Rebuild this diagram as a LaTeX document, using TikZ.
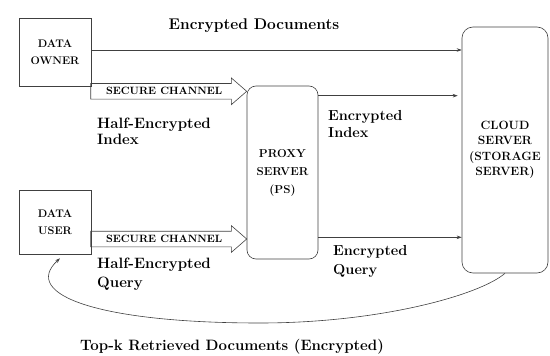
\documentclass[tikz,border=0pt]{standalone}
\usetikzlibrary{arrows.meta,shapes.arrows,calc}
\tikzset{
	party/.style={draw=black!75, line width=0.6pt, minimum width=72pt, inner sep=0pt, align=center, font=\fontsize{11}{17}\selectfont\bfseries},
	server/.style={draw=black!75, line width=0.6pt, rounded corners=9pt, inner sep=0pt, align=center},
	channel/.style={draw=black!75, line width=0.6pt, single arrow, single arrow head extend=5.5pt, single arrow tip angle=82, minimum height=156pt, inner ysep=4pt, inner xsep=0pt, text height=7pt, text depth=0pt, outer sep=0pt, font=\fontsize{10.6}{12}\selectfont\bfseries},
	flow/.style={draw=black!75, line width=0.6pt, -{Stealth[length=5pt,width=3.5pt]}},
	lbl/.style={inner sep=0pt, align=left, font=\bfseries},
}

\begin{document}
\begin{tikzpicture}[x=1pt,y=1pt]
		%%%%% START %%%%%
		\useasboundingbox (0,0) rectangle (550,-356);
		
		\node[party, minimum height=68pt] (owner) at (55,-52) {DATA\\OWNER};
		\node[party, minimum height=64pt] (user) at (55,-222) {DATA\\USER};
		
		\node[server, minimum width=71pt, minimum height=173pt, font=\fontsize{11.5}{18}\selectfont\bfseries] (proxy) at (282.5,-172.5) {PROXY\\SERVER\\(PS)};
		\node[server, rounded corners=11pt, minimum width=86pt, minimum height=246pt, font=\fontsize{12}{15.5}\selectfont\bfseries] (cloud) at (505,-150) {CLOUD\\SERVER\\(STORAGE\\SERVER)};
		
		\node[channel, anchor=tip] (chowner) at ([yshift=-5pt]proxy.west |- owner.south) {SECURE CHANNEL};
		\node[channel, anchor=tip] (chuser) at ($(proxy.west |- user)+(0,-17)$) {SECURE CHANNEL};
		
		\draw[flow] ($(owner.east)+(0,2)$) coordinate (docs) -- (docs -| cloud.west);
		\draw[flow] ($(proxy.north east)+(0,-10)$) coordinate (eidx) -- ([xshift=-4pt]eidx -| cloud.west);
		\draw[flow] ($(proxy.south east)+(0,22)$) coordinate (eqry) -- (eqry -| cloud.west);
		
		\coordinate (dip) at (260,-323);
		\draw[flow] (cloud.south) .. controls (480,-295) and (380,-323) .. (dip) .. controls (100,-323) and (20,-295) .. ($(user.south)+(5,-4)$);
		
		\node[lbl, anchor=base, font=\fontsize{15.5}{17}\selectfont\bfseries] (docslbl) at (254,-29) {Encrypted Documents};
		\node[lbl, anchor=north west, font=\fontsize{15}{15.5}\selectfont\bfseries] (hidx) at (97,-118) {Half-Encrypted\\Index};
		\node[lbl, anchor=north west, font=\fontsize{15}{19}\selectfont\bfseries] (hqry) at (97,-258) {Half-Encrypted\\Query};
		\node[lbl, anchor=north west, font=\fontsize{14.5}{17}\selectfont\bfseries] (eidxlbl) at (328,-110) {Encrypted\\Index};
		\node[lbl, anchor=north west, font=\fontsize{14.5}{19}\selectfont\bfseries] (eqrylbl) at (333,-245) {Encrypted\\Query};
		\node[lbl, anchor=base, font=\fontsize{15}{17}\selectfont\bfseries] (topk) at (232,-350) {Top-k Retrieved Documents (Encrypted)};
		
		%%%%% END %%%%%
	\end{tikzpicture}
\end{document}
